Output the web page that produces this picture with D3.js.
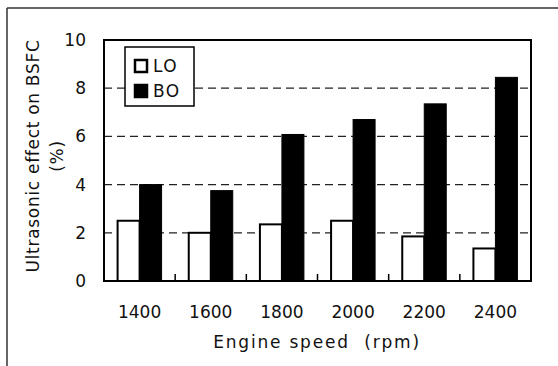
<!DOCTYPE html>
<html>
<head>
<meta charset="utf-8">
<script src="https://cdnjs.cloudflare.com/ajax/libs/d3/7.8.5/d3.min.js"></script>
<style>
body { margin: 0; background: #fff; }
svg text { font-family: "DejaVu Sans", sans-serif; fill: #111; }
</style>
</head>
<body>
<svg width="558" height="366"></svg>
<script>
// engine speed categories and the two series (%)
var speeds = ["1400", "1600", "1800", "2000", "2200", "2400"];
var loValues = [2.5, 2.0, 2.35, 2.5, 1.85, 1.35];
var boValues = [4.0, 3.75, 6.08, 6.7, 7.35, 8.45];
var seriesNames = ["LO", "BO"];
var yTicks = [0, 2, 4, 6, 8, 10];

var svg = d3.select("svg");
var pLeft = 104, pRight = 531, pTop = 40, pBottom = 281;

// outer frame (top + left only)
svg.append("line").attr("x1", 7).attr("x2", 558).attr("y1", 8).attr("y2", 8)
    .attr("stroke", "#333").attr("stroke-width", 1.5);
svg.append("line").attr("x1", 7).attr("x2", 7).attr("y1", 8).attr("y2", 366)
    .attr("stroke", "#333").attr("stroke-width", 1.5);

var x = d3.scaleBand().domain(speeds).range([pLeft, pRight]);
var y = d3.scaleLinear().domain([0, 10]).range([pBottom, pTop]);
var barW = 22;

// dashed grid lines
svg.selectAll(".grid")
    .data(yTicks.filter(function(d) { return d > 0 && d < 10; }))
    .enter().append("line")
    .attr("x1", pLeft).attr("x2", pRight)
    .attr("y1", function(d) { return y(d); })
    .attr("y2", function(d) { return y(d); })
    .attr("stroke", "#222").attr("stroke-width", 1.3)
    .attr("stroke-dasharray", "8,5");

// bars
svg.selectAll(".lo").data(loValues).enter().append("rect")
    .attr("x", function(d, i) { return x(speeds[i]) + x.bandwidth() / 2 - barW; })
    .attr("y", function(d) { return y(d); })
    .attr("width", barW)
    .attr("height", function(d) { return y(0) - y(d); })
    .attr("fill", "#fff").attr("stroke", "#000").attr("stroke-width", 2);

svg.selectAll(".bo").data(boValues).enter().append("rect")
    .attr("x", function(d, i) { return x(speeds[i]) + x.bandwidth() / 2; })
    .attr("y", function(d) { return y(d); })
    .attr("width", barW)
    .attr("height", function(d) { return y(0) - y(d); })
    .attr("fill", "#000").attr("stroke", "#000").attr("stroke-width", 1);

// plot frame
svg.append("rect").attr("x", pLeft).attr("y", pTop)
    .attr("width", pRight - pLeft).attr("height", pBottom - pTop)
    .attr("fill", "none").attr("stroke", "#000").attr("stroke-width", 2);

// inward category separators at bottom
svg.selectAll(".sep").data(speeds.slice(1)).enter().append("line")
    .attr("x1", function(d) { return x(d); })
    .attr("x2", function(d) { return x(d); })
    .attr("y1", pBottom).attr("y2", pBottom - 7)
    .attr("stroke", "#000").attr("stroke-width", 1.5);

// y axis labels
svg.selectAll(".ytick").data(yTicks).enter().append("text")
    .attr("x", 86).attr("y", function(d) { return y(d); })
    .attr("dy", "0.35em").attr("text-anchor", "end")
    .attr("font-size", 17)
    .text(function(d) { return d; });

// x axis labels
svg.selectAll(".xtick").data(speeds).enter().append("text")
    .attr("x", function(d) { return x(d) + x.bandwidth() / 2; })
    .attr("y", 312).attr("dy", "0.35em").attr("text-anchor", "middle")
    .attr("font-size", 17)
    .text(function(d) { return d; });

svg.append("text").attr("x", 317).attr("y", 342).attr("dy", "0.35em")
    .attr("text-anchor", "middle").attr("font-size", 17)
    .attr("letter-spacing", 1.8)
    .attr("xml:space", "preserve")
    .text("Engine speed  (rpm)");

svg.append("text").attr("transform", "translate(33,156) rotate(-90)")
    .attr("dy", "0.35em").attr("text-anchor", "middle").attr("font-size", 17)
    .attr("letter-spacing", 0.7)
    .text("Ultrasonic effect on BSFC");
svg.append("text").attr("transform", "translate(57,156) rotate(-90)")
    .attr("dy", "0.35em").attr("text-anchor", "middle").attr("font-size", 17)
    .attr("letter-spacing", 0.7)
    .text("(%)");

// legend
var lg = svg.append("g");
lg.append("rect").attr("x", 125).attr("y", 47).attr("width", 69).attr("height", 59)
    .attr("fill", "#fff").attr("stroke", "#000").attr("stroke-width", 1.5);
var items = lg.selectAll(".item").data(seriesNames).enter().append("g")
    .attr("transform", function(d, i) { return "translate(134," + (59 + i * 25) + ")"; });
items.append("rect").attr("x", 1).attr("y", 1).attr("width", 12).attr("height", 12)
    .attr("fill", function(d, i) { return i === 0 ? "#fff" : "#000"; })
    .attr("stroke", "#000").attr("stroke-width", 2.5);
items.append("text").attr("x", 19).attr("y", 7).attr("dy", "0.35em")
    .attr("font-size", 17).attr("letter-spacing", 1.5)
    .text(function(d) { return d; });
</script>
</body>
</html>
